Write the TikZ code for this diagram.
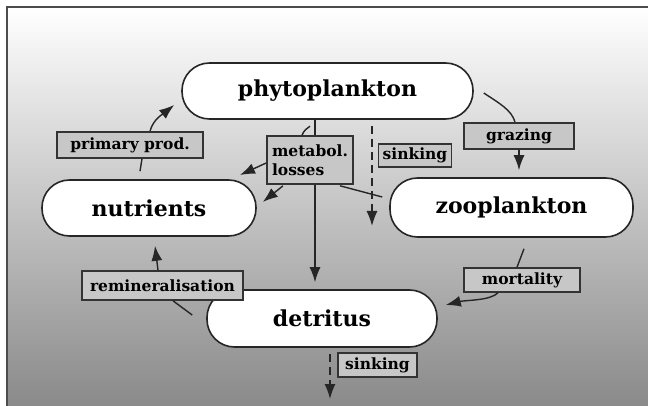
\documentclass[tikz,border=0pt]{standalone}
\usepackage{fontspec}
\setmainfont{DejaVu Serif}
\usetikzlibrary{arrows.meta}
\begin{document}
\begin{tikzpicture}[x=1pt,y=-1pt,
  pill/.style={draw=black!85, line width=1.6pt, fill=white, rounded corners=27.5pt,
    font=\fontsize{22}{25}\selectfont\bfseries, inner sep=0pt},
  lab/.style={draw=black!80, line width=1.6pt, fill=black!22,
    font=\fontsize{15.5}{19}\selectfont\bfseries, inner sep=0pt},
  flow/.style={line width=1.4pt, draw=black!85},
  arr/.style={flow, -{Latex[length=15pt,width=11pt]}},
  dflow/.style={arr, dash pattern=on 8pt off 5pt},
]
\useasboundingbox (0,0) rectangle (648,406);
\fill[top color=white, bottom color=black!46] (7,7) rectangle (648,406);
\draw[line width=2pt, black!70] (7,406) -- (7,7) -- (648,7);

% main compartments
\node[pill, minimum width=291pt, minimum height=56pt] (phy) at (327.5,91) {phytoplankton};
\node[pill, minimum width=214pt, minimum height=56pt] (nut) at (149,208) {nutrients};
\node[pill, minimum width=243pt, minimum height=59pt] (zoo) at (511.5,207.5) {zooplankton};
\node[pill, minimum width=230pt, minimum height=57pt] (det) at (322,318.5) {detritus};

% process labels
\node[lab, minimum width=146pt, minimum height=26pt] (prim) at (130,145) {primary prod.};
\node[lab, minimum width=86pt, minimum height=48pt, align=left] (met) at (310,160) {metabol.\\losses};
\node[lab, minimum width=73pt, minimum height=23pt] (sk1) at (415,155.5) {sinking};
\node[lab, minimum width=110pt, minimum height=26pt] (graz) at (519,136) {grazing};
\node[lab, minimum width=161pt, minimum height=29pt] (rem) at (162.5,285.5) {remineralisation};
\node[lab, minimum width=116pt, minimum height=24pt] (mort) at (522,280) {mortality};
\node[lab, minimum width=79pt, minimum height=24pt] (sk2) at (377.5,365) {sinking};

\coordinate (s1end) at (372,226);
\coordinate (s2end) at (330,399);

% primary production
\draw[flow] ([shift={(-9,-8)}]nut.north) -- ([shift={(12,0)}]prim.south);
\draw[arr] ([shift={(20,0)}]prim.north) .. controls +(3,-12) and +(-10,8) .. ([shift={(-7,14)}]phy.west);

% grazing
\draw[flow] ([shift={(10,2)}]phy.east) .. controls +(15,10) and +(-3,-12) .. ([shift={(-4,0)}]graz.north);
\draw[arr, shorten >=7pt] (graz.south) -- (graz.south |- zoo.north);

% mortality
\draw[flow] ([shift={(12.5,11)}]zoo.south) -- ([shift={(-5,0)}]mort.north);
\draw[arr] ([shift={(-24,0)}]mort.south) .. controls +(-8,8) and +(20,-5) .. ([shift={(8,-13.5)}]det.east);

% remineralisation
\draw[flow] ([shift={(-14,-3.5)}]det.west) -- ([shift={(10.5,0)}]rem.south);
\draw[arr] ([shift={(-4.5,0)}]rem.north) -- ([shift={(6,9)}]nut.south);

% metabolic losses
\draw[flow] ([shift={(5,0)}]met.north) -- ([shift={(5,0)}]met.north |- phy.south);
\draw[flow] ([shift={(-8,0)}]met.north) .. controls +(2,-5) and +(-3,2) .. ([shift={(0,-9)}]met.north);
\draw[arr] ([shift={(0,3)}]met.west) -- ([shift={(91,-33)}]nut.center);
\draw[arr] ([shift={(-27,1)}]met.south) -- ([shift={(6,-6)}]nut.east);
\draw[flow] ([shift={(30,1)}]met.south) -- ([shift={(-7,-10.5)}]zoo.west);
\draw[arr, shorten >=7pt] ([shift={(5,0)}]met.south) -- ([shift={(5,0)}]met.south |- det.north);

% sinking
\draw[dflow] ([shift={(44.5,6)}]phy.south) -- (s1end);
\draw[dflow] ([shift={(8,6)}]det.south) -- (s2end);
\end{tikzpicture}
\end{document}
